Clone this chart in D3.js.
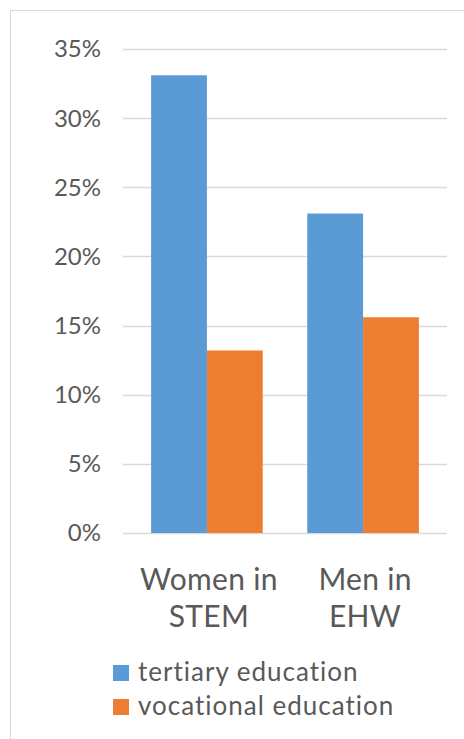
<!DOCTYPE html>
<html>
<head>
<meta charset="utf-8">
<script src="https://cdn.jsdelivr.net/npm/d3@7"></script>
<style>
  html, body { margin: 0; padding: 0; background: #fff; }
  svg { display: block; }
  text { font-family: Lato, "Open Sans", sans-serif; fill: #595959; }
</style>
</head>
<body>
<svg id="chart" width="464" height="739"></svg>
<script>
// Share of workers by education type
const categories = [["Women in", "STEM"], ["Men in", "EHW"]];
const seriesNames = ["tertiary education", "vocational education"];
const tertiary = [33.1, 23.1];
const vocational = [13.2, 15.6];
const yTicks = [0, 5, 10, 15, 20, 25, 30, 35];
const colors = ["#5b9bd5", "#ed7d31"];

const rows = categories.map((c, i) => ({ key: c.join(" "), lines: c, values: [tertiary[i], vocational[i]] }));

const svg = d3.select("#chart");

// chart frame
svg.append("path")
  .attr("d", "M10.5,739 L10.5,10.5 L464,10.5")
  .attr("fill", "none")
  .attr("stroke", "#d9d9d9")
  .attr("stroke-width", 1);

const x0 = d3.scaleBand()
  .domain(rows.map(r => r.key))
  .range([123, 447])
  .paddingInner(0.285)
  .paddingOuter(0.18);

const x1 = d3.scaleBand()
  .domain(seriesNames)
  .range([0, x0.bandwidth()]);

const y = d3.scaleLinear().domain([0, 35]).range([533, 49]);

// gridlines
svg.append("g")
  .selectAll("line")
  .data(yTicks)
  .join("line")
  .attr("x1", 123).attr("x2", 447)
  .attr("y1", d => Math.round(y(d)) + 0.5)
  .attr("y2", d => Math.round(y(d)) + 0.5)
  .attr("stroke", "#d9d9d9")
  .attr("stroke-width", 1.5);

// y-axis labels
svg.append("g")
  .selectAll("text")
  .data(yTicks)
  .join("text")
  .attr("x", 101)
  .attr("y", d => y(d))
  .attr("dy", "0.35em")
  .attr("text-anchor", "end")
  .style("font-size", "24px")
  .text(d => d + "%");

// bars
const groups = svg.append("g")
  .selectAll("g")
  .data(rows)
  .join("g")
  .attr("transform", d => `translate(${x0(d.key)},0)`);

groups.selectAll("rect")
  .data(d => d.values.map((v, i) => ({ name: seriesNames[i], value: v, i })))
  .join("rect")
  .attr("x", d => x1(d.name))
  .attr("width", x1.bandwidth())
  .attr("y", d => y(d.value))
  .attr("height", d => y(0) - y(d.value))
  .attr("fill", d => colors[d.i]);

// category labels
const catLabels = svg.append("g")
  .selectAll("text")
  .data(rows)
  .join("text")
  .attr("text-anchor", "middle")
  .attr("transform", d => `translate(${x0(d.key) + x0.bandwidth() / 2 + 2},590)`)
  .style("font-size", "30px")
  .style("letter-spacing", "0.3px");

catLabels.selectAll("tspan")
  .data(d => d.lines)
  .join("tspan")
  .attr("x", 0)
  .attr("y", (d, i) => i * 36.7)
  .text(d => d);

// legend
const legend = svg.append("g")
  .selectAll("g")
  .data(seriesNames)
  .join("g")
  .attr("transform", (d, i) => `translate(113,${665 + i * 34})`);

legend.append("rect")
  .attr("width", 16)
  .attr("height", 16)
  .attr("fill", (d, i) => colors[i]);

legend.append("text")
  .attr("x", 25)
  .attr("y", 15.5)
  .style("font-size", "26px")
  .style("letter-spacing", "1px")
  .text(d => d);
</script>
</body>
</html>
